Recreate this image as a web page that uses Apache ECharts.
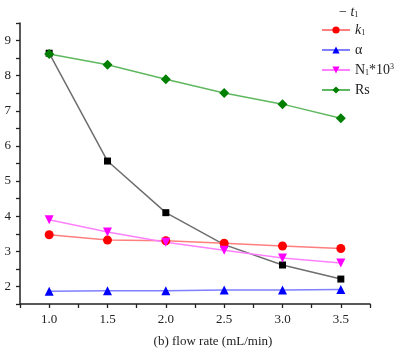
<!DOCTYPE html>
<html><head><meta charset="utf-8">
<script src="https://cdn.jsdelivr.net/npm/echarts@6/dist/echarts.min.js"></script>
<style>html,body{margin:0;padding:0;background:#fff}#c{width:398px;height:364px}</style>
</head><body><div id="c"></div>
<script>
const flowRates = [1.0, 1.5, 2.0, 2.5, 3.0, 3.5];
const t1 = [8.64, 5.57, 4.10, 3.19, 2.61, 2.21];
const k1 = [3.47, 3.32, 3.30, 3.23, 3.15, 3.08];
const alpha = [1.86, 1.88, 1.88, 1.90, 1.90, 1.91];
const N1 = [3.90, 3.55, 3.26, 3.03, 2.81, 2.67];
const Rs = [8.62, 8.31, 7.90, 7.51, 7.19, 6.79];
const xTickLabels = ['1.0', '1.5', '2.0', '2.5', '3.0', '3.5'];
const yTickLabels = ['2', '3', '4', '5', '6', '7', '8', '9'];
const xTitle = '(b) flow rate (mL/min)';

const pairs = arr => flowRates.map((x, i) => [x, arr[i]]);
const FONT = 'Liberation Serif';

function mk(name, data, lineColor, markColor, symbol, size, extra) {
  return Object.assign({
    name, type: 'line', data: pairs(data), symbol, symbolSize: size,
    lineStyle: { color: lineColor, width: 1.5 },
    itemStyle: { color: markColor },
    emphasis: { disabled: true }, animation: false, z: 3
  }, extra || {});
}

const chart = echarts.init(document.getElementById('c'));
chart.setOption({
  animation: false,
  grid: { left: 20, right: 28, top: 23, bottom: 60, containLabel: false },
  xAxis: {
    type: 'value', min: 0.75, max: 3.75, interval: 0.25,
    axisLine: { lineStyle: { color: '#222', width: 1.5 } },
    axisTick: { inside: false, length: 4, lineStyle: { color: '#222', width: 1.3 } },
    splitLine: { show: false },
    axisLabel: {
      margin: 9, fontFamily: FONT, fontSize: 13, color: '#222',
      formatter: v => { const s = v.toFixed(1); return (xTickLabels.includes(s) && Math.abs(v*2 - Math.round(v*2)) < 1e-6) ? s : ''; }
    }
  },
  yAxis: {
    type: 'value', min: 1.5, max: 9.5, interval: 0.5,
    axisLine: { show: true, lineStyle: { color: '#222', width: 1.5 } },
    axisTick: { show: true, inside: false, length: 4, lineStyle: { color: '#222', width: 1.3 } },
    splitLine: { show: false },
    axisLabel: {
      margin: 9, fontFamily: FONT, fontSize: 13, color: '#222',
      formatter: v => { const s = String(Math.round(v)); return (Math.abs(v - Math.round(v)) < 1e-6 && yTickLabels.includes(s)) ? s : ''; }
    }
  },
  legend: {
    orient: 'vertical', left: 316, top: 18,
    itemWidth: 28, itemHeight: 9, itemGap: 6,
    data: ['k1', 'alpha', 'N1', 'Rs'],
    textStyle: {
      fontFamily: FONT, fontSize: 14, color: '#222', lineHeight: 14,
      rich: {
        i: { fontFamily: FONT, fontSize: 14, fontStyle: 'italic', color: '#222' },
        s: { fontFamily: FONT, fontSize: 8, color: '#222', verticalAlign: 'bottom', lineHeight: 14 },
        p: { fontFamily: FONT, fontSize: 8, color: '#222', verticalAlign: 'top', lineHeight: 14 },
        n: { fontFamily: FONT, fontSize: 14, color: '#222' }
      }
    },
    formatter: n => ({
      k1: '{i|k}{s|1}',
      alpha: '{n|α}',
      N1: '{n|N}{s|1}{n|*10}{p|3}',
      Rs: '{n|Rs}'
    })[n]
  },
  graphic: [
    {
      type: 'text', left: 339, top: 5,
      style: {
        text: '{n|− }{i|t}{s|1}',
        rich: {
          n: { fontFamily: FONT, fontSize: 14, fill: '#222' },
          i: { fontFamily: FONT, fontSize: 14, fontStyle: 'italic', fill: '#222' },
          s: { fontFamily: FONT, fontSize: 8, fill: '#222', verticalAlign: 'bottom', lineHeight: 14 }
        }
      }
    },
    {
      type: 'text', x: 213, y: 342,
      style: { text: xTitle, fontFamily: FONT, fontSize: 13, fill: '#222', align: 'center', verticalAlign: 'middle' }
    }
  ],
  series: [
    mk('t1', t1, '#6e6e6e', '#000000', 'rect', 7),
    mk('k1', k1, '#ff7f7f', '#ff0000', 'circle', 9),
    mk('alpha', alpha, '#7f7fff', '#0000ff', 'triangle', 9),
    mk('N1', N1, '#ff80ff', '#ff00ff', 'triangle', 9, { symbolRotate: 180 }),
    mk('Rs', Rs, '#5fb85f', '#007f00', 'diamond', 10)
  ]
});
</script></body></html>
